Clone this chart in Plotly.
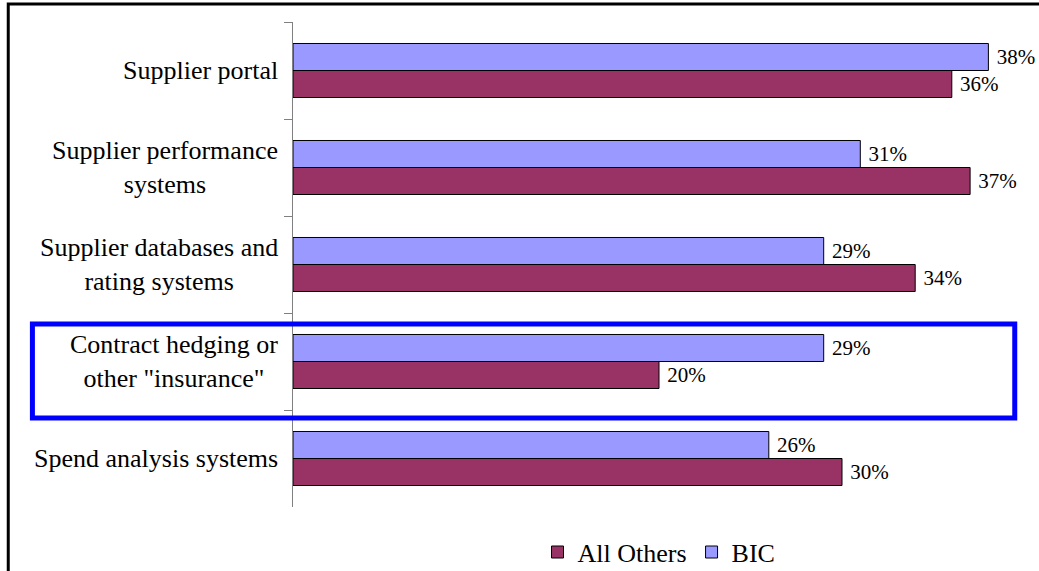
import plotly.graph_objects as go

categories = ["Supplier portal", "Supplier performance systems", "Supplier databases and rating systems",
              "Contract hedging or other \"insurance\"", "Spend analysis systems"]
category_labels = ["Supplier portal", "Supplier performance<br>systems", "Supplier databases and<br>rating systems",
                   "Contract hedging or<br>other \"insurance\"", "Spend analysis systems"]
bic = [38, 31, 29, 29, 26]
all_others = [36, 37, 34, 20, 30]
highlight = "Contract hedging or other \"insurance\""

FONT = "Times New Roman, Tinos, Liberation Serif, DejaVu Serif, Noto Serif, serif"

fig = go.Figure()
fig.add_trace(go.Bar(
    y=categories, x=bic, orientation="h", name="BIC",
    marker=dict(color="#9999FF", line=dict(color="#000000", width=1)),
    text=[f"\u00a0{v}%" for v in bic], textposition="outside",
    textfont=dict(family=FONT, size=21, color="#000000"),
    cliponaxis=False, legendrank=2,
))
fig.add_trace(go.Bar(
    y=categories, x=all_others, orientation="h", name="All Others",
    marker=dict(color="#993366", line=dict(color="#000000", width=1)),
    text=[f"\u00a0{v}%" for v in all_others], textposition="outside",
    textfont=dict(family=FONT, size=21, color="#000000"),
    cliponaxis=False, legendrank=1,
))

annotations = []
for cat, lab in zip(categories, category_labels):
    annotations.append(dict(
        x=0, xref="paper", xanchor="right", xshift=-13,
        y=cat, yref="y", yanchor="middle",
        text=lab, showarrow=False, align="center",
        font=dict(family=FONT, size=26, color="#000000"),
    ))

hi = categories.index(highlight)
shapes = [
    # outer chart border (extends beyond the window on right/bottom)
    dict(type="rect", xref="paper", yref="paper", x0=-0.389, x1=1.2, y0=-0.4, y1=1.037,
         line=dict(color="#000000", width=3), fillcolor="rgba(0,0,0,0)", layer="below"),
    # blue highlight box
    dict(type="rect", xref="paper", yref="y", x0=-0.356, x1=0.986, y0=hi - 0.387, y1=hi + 0.582,
         line=dict(color="#0000FF", width=5), fillcolor="rgba(0,0,0,0)", layer="above"),
]

fig.update_layout(
    width=1039, height=571,
    margin=dict(l=293, r=14, t=22, b=64, autoexpand=False),
    paper_bgcolor="#FFFFFF", plot_bgcolor="#FFFFFF",
    barmode="group", bargap=0.443, bargroupgap=0,
    font=dict(family=FONT, size=26, color="#000000"),
    showlegend=True,
    legend=dict(orientation="h", x=0.5, xanchor="center", y=-0.093, yanchor="middle",
                font=dict(family=FONT, size=26, color="#000000"),
                itemwidth=30, tracegroupgap=0, bgcolor="rgba(0,0,0,0)"),
    xaxis=dict(range=[0, 40], visible=False, showgrid=False, zeroline=False),
    yaxis=dict(
        type="category", categoryorder="array", categoryarray=categories,
        range=[4.5, -0.5], showticklabels=False,
        showline=True, linecolor="#808080", linewidth=1,
        ticks="outside", ticklen=8, tickcolor="#808080", tickwidth=1,
        tickson="boundaries", showgrid=False, zeroline=False,
    ),
    annotations=annotations,
    shapes=shapes,
)

fig.write_html("out.html")
